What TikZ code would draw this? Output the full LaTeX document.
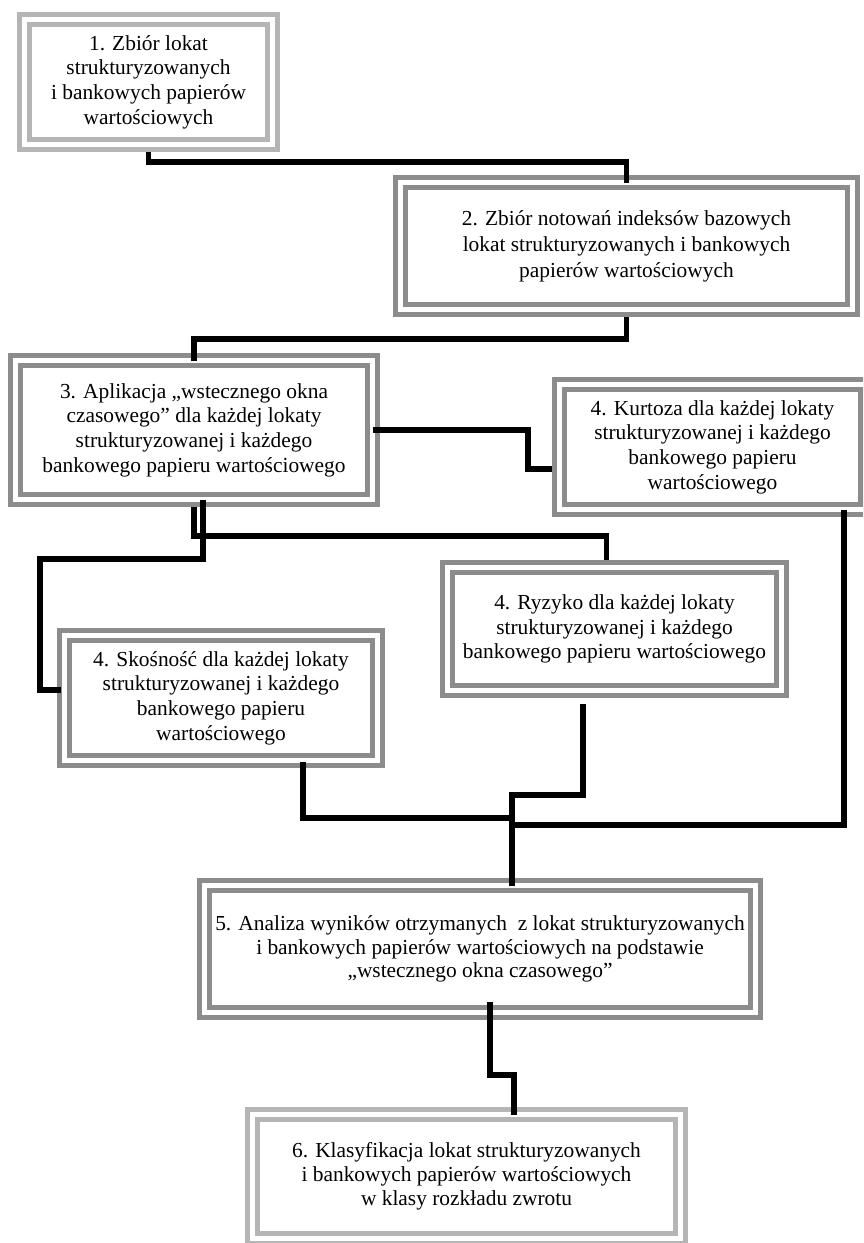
\documentclass[tikz,border=0pt]{standalone}
\usepackage{fontspec}
\setmainfont{Liberation Serif}
\definecolor{boxdark}{gray}{0.55}
\definecolor{boxlight}{gray}{0.71}
\tikzset{
  boxbase/.style={draw=boxdark, line width=2.5pt, double=white, double distance=2.5pt,
    inner sep=0pt, outer sep=0pt, align=center,
    font=\fontsize{10.7}{12.3}\selectfont},
  lightbox/.style={boxbase, draw=boxlight},
  darkbox/.style={boxbase, draw=boxdark},
  conn/.style={draw=black, line width=2.7pt, line join=miter, line cap=butt}
}
\begin{document}
\begin{tikzpicture}[x=0.5pt,y=-0.5pt]
\useasboundingbox (0,0) rectangle (863,1243);
\clip (0,0) rectangle (863,1243);
\fill[white] (0,0) rectangle (863,1243);

% boxes
\node[lightbox, minimum width=124pt, minimum height=62.5pt] (b1) at (148.5,82)
  {1. Zbiór lokat\\strukturyzowanych\\i bankowych papierów\\wartościowych};
\node[darkbox, minimum width=226pt, minimum height=63.5pt, font=\fontsize{10.7}{13}\selectfont] (b2) at (626.5,246)
  {2. Zbiór notowań indeksów bazowych\\lokat strukturyzowanych i bankowych\\papierów wartościowych};
\node[darkbox, minimum width=178.5pt, minimum height=69.5pt] (b3) at (194,430)
  {3. Aplikacja „wstecznego okna\\czasowego” dla każdej lokaty\\strukturyzowanej i każdego\\bankowego papieru wartościowego};
\node[darkbox, minimum width=153pt, minimum height=62.5pt] (b4) at (712.5,447)
  {4. Kurtoza dla każdej lokaty\\strukturyzowanej i każdego\\bankowego papieru\\wartościowego};
\node[darkbox, minimum width=167pt, minimum height=61.5pt] (b4r) at (614.5,629)
  {4. Ryzyko dla każdej lokaty\\strukturyzowanej i każdego\\bankowego papieru wartościowego};
\node[darkbox, minimum width=156.5pt, minimum height=62.5pt] (b4s) at (221,698)
  {4. Skośność dla każdej lokaty\\strukturyzowanej i każdego\\bankowego papieru\\wartościowego};
\node[darkbox, minimum width=275.5pt, minimum height=63.5pt, font=\fontsize{10.7}{11.6}\selectfont] (b5) at (480,949)
  {5. Analiza wyników otrzymanych~ z lokat strukturyzowanych\\i bankowych papierów wartościowych na podstawie\\„wstecznego okna czasowego”};
\node[lightbox, minimum width=214pt, minimum height=61.75pt, font=\fontsize{10.7}{11.8}\selectfont] (b6) at (466.5,1176.25)
  {6. Klasyfikacja lokat strukturyzowanych\\i bankowych papierów wartościowych\\w klasy rozkładu zwrotu};

% helper coordinates
\coordinate (k12) at (0,162);
\coordinate (k23) at (0,339);
\coordinate (k34) at (528,0);
\coordinate (e4) at ([xshift=-3.75pt,yshift=-11pt]b4.west);
\coordinate (s3a) at ([xshift=4.5pt]b3.south);
\coordinate (k3s) at (40,559);
\coordinate (e4s) at ([xshift=-2pt,yshift=4pt]b4s.west);
\coordinate (k3r) at (0,536);
\coordinate (e4r) at ([xshift=-4pt,yshift=3.75pt]b4r.north);
\coordinate (t5) at ([xshift=16pt]b5.north);
\coordinate (s4s) at ([xshift=41pt,yshift=-0.75pt]b4s.south);
\coordinate (k5s) at (0,818);
\coordinate (s4r) at ([xshift=-15.75pt,yshift=-6.75pt]b4r.south);
\coordinate (k5r) at (0,795);
\coordinate (s4k) at ([xshift=65.75pt]b4.south);
\coordinate (k5k) at (0,825);
\coordinate (s5) at ([xshift=5pt,yshift=5.25pt]b5.south);
\coordinate (k56) at (0,1075);
\coordinate (e6) at ([xshift=23.75pt]b6.north);

% connectors
\draw[conn] ([yshift=-3.75pt]b1.south) -- (b1.south |- k12) -- (k12 -| b2.north) -- (b2.north);
\draw[conn] ([yshift=-3.75pt]b2.south) -- (b2.south |- k23) -- (k23 -| b3.north) -- (b3.north);
\draw[conn] (b3.east) -- (b3.east -| k34) -- (k34 |- e4) -- (e4);
\draw[conn] (s3a) -- (s3a |- k3s) -- (k3s) -- (k3s |- e4s) -- (e4s);
\draw[conn] ([yshift=-3.75pt]b3.south) -- (b3.south |- k3r) -- (k3r -| e4r) -- (e4r);
\draw[conn] (s4s) -- (s4s |- k5s) -- (k5s -| t5);
\draw[conn] (s4r) -- (s4r |- k5r) -- (k5r -| t5) -- (t5);
\draw[conn] (s4k) -- (s4k |- k5k) -- (k5k -| t5);
\draw[conn] (s5) -- (s5 |- k56) -- (k56 -| e6) -- (e6);
\end{tikzpicture}
\end{document}
